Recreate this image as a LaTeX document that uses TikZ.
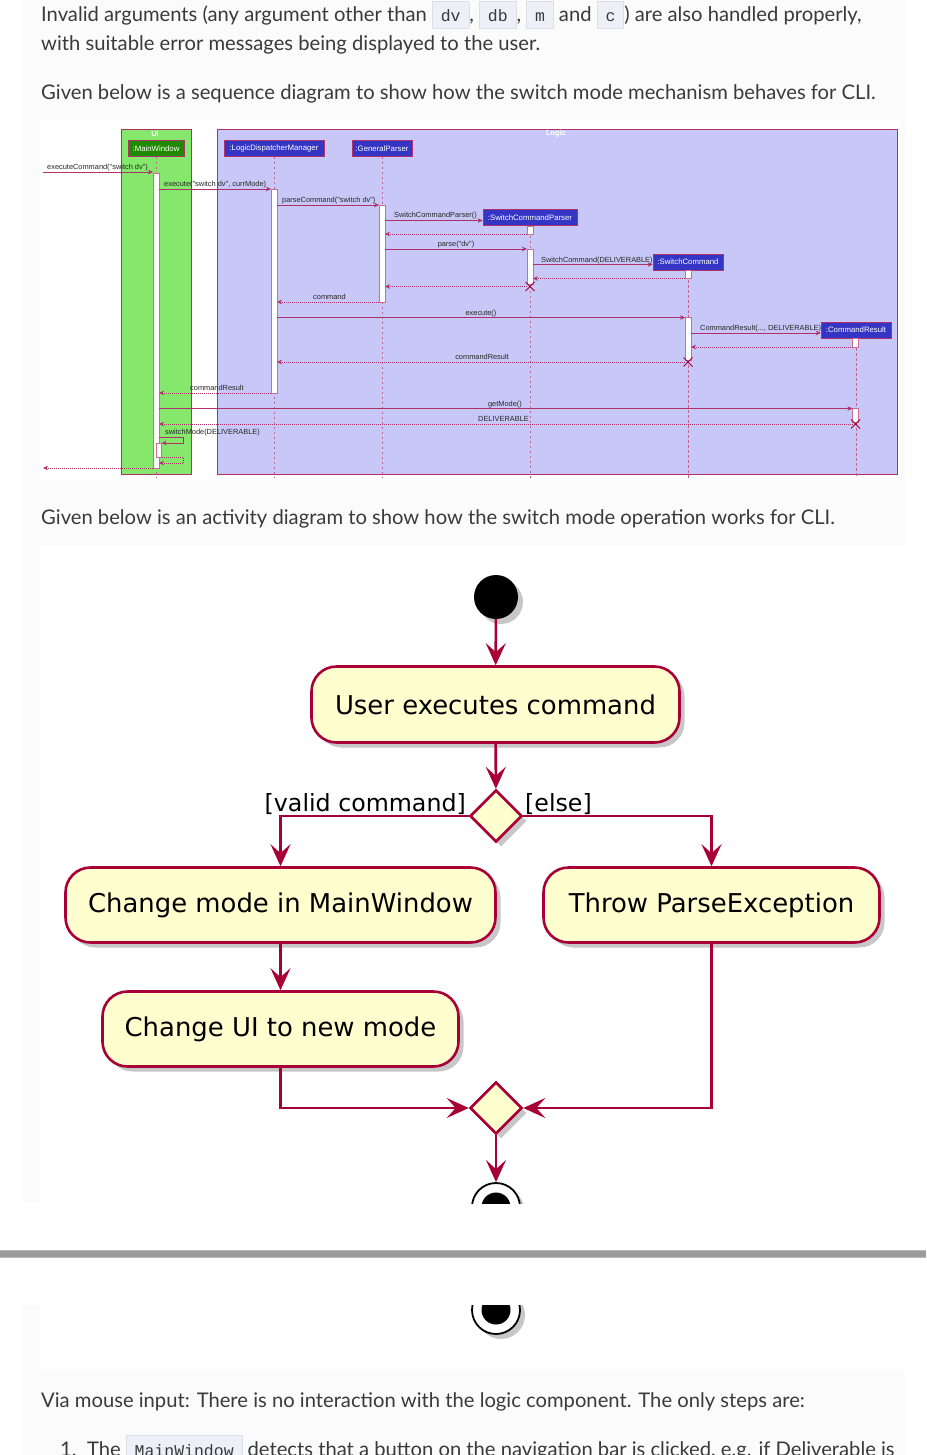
\documentclass[tikz,border=0pt]{standalone}
\usepackage{fontspec}
\setmainfont{Lato}
\newfontfamily\bodyfont{Lato}
\newfontfamily\codefontfam{Liberation Mono}
\newfontfamily\seqfam{Liberation Sans}
\newfontfamily\actfam{DejaVu Sans}
\usetikzlibrary{arrows.meta,shadows,shapes.geometric}
\definecolor{crim}{HTML}{A80036}
\definecolor{seqc}{HTML}{B0306A}
\definecolor{actfill}{HTML}{FEFECE}
\definecolor{uigreen}{HTML}{85E86C}
\definecolor{logicbg}{HTML}{C8C8F8}
\definecolor{partblue}{HTML}{3535C5}
\definecolor{partgreen}{HTML}{1F8A00}
\definecolor{bodytext}{HTML}{3A3A3A}
\definecolor{codebg}{HTML}{EEF0F7}
\definecolor{codeborder}{HTML}{DCDFEA}
\definecolor{pagebg}{HTML}{FBFBFB}
\definecolor{barc}{HTML}{9B9B9B}
\newcommand\cbox[1]{{\setlength\fboxsep{0pt}\setlength\fboxrule{0.8pt}\fcolorbox{codeborder}{codebg}{\hspace{8pt}\rule[-6pt]{0pt}{26pt}{\codefontfam\fontsize{16.5}{18}\selectfont #1}\hspace{8pt}}}}
\begin{document}
\begin{tikzpicture}[x=1pt,y=-1pt,
  body/.style={font=\bodyfont\fontsize{20.2}{24}\selectfont, text=bodytext, inner sep=0pt, anchor=base west},
  grp/.style={draw=seqc, line width=0.6pt},
  grptitle/.style={font=\seqfam\bfseries\fontsize{7.5}{8}\selectfont, text=white, inner sep=0pt},
  part/.style={draw=seqc, line width=0.6pt, fill=partblue, text=white, font=\seqfam\fontsize{7.8}{8}\selectfont, inner sep=0pt, minimum height=16pt},
  lifeline/.style={draw=seqc!75, line width=0.6pt, dash pattern=on 2.5pt off 2.5pt},
  actbar/.style={draw=seqc!70, fill=white, line width=0.6pt},
  msg/.style={draw=seqc, line width=0.6pt, -{Stealth[length=5pt,width=4.5pt,inset=1.5pt]}},
  ret/.style={msg, dash pattern=on 1pt off 1pt},
  lbl/.style={font=\seqfam\fontsize{7.4}{8}\selectfont, text=black!85, inner sep=0pt},
  xmark/.style={draw=crim, line width=0.8pt},
  actbox/.style={draw=crim, fill=actfill, line width=2.6pt, rounded corners=25pt, inner sep=0pt,
     font=\actfam\fontsize{25.9}{30}\selectfont, text=black,
     drop shadow={shadow xshift=5pt, shadow yshift=-5pt, fill=black, opacity=0.22}},
  decis/.style={diamond, draw=crim, fill=actfill, line width=2.6pt, minimum width=52pt, minimum height=52pt, inner sep=0pt,
     drop shadow={shadow xshift=5pt, shadow yshift=-5pt, fill=black, opacity=0.22}},
  guard/.style={font=\actfam\fontsize{23.7}{28}\selectfont, text=black, inner sep=0pt},
  aarrow/.style={draw=crim, line width=2.6pt, -{Stealth[length=22pt,width=20pt,inset=9pt]}},
  endring/.style={circle, draw=black, fill=white, line width=1.8pt, minimum size=48pt, inner sep=0pt,
     drop shadow={shadow xshift=5pt, shadow yshift=-5pt, fill=black, opacity=0.22}}
]
\useasboundingbox (0,0) rectangle (926,1455);
% page backgrounds
\fill[white] (0,0) rectangle (926,1455);
\fill[pagebg] (22,0) rectangle (905,1203);
\fill[pagebg] (22,1305) rectangle (905,1455);
\fill[white] (40,120) rectangle (900,480);
\fill[white] (40,545) rectangle (905,1203);
\fill[white] (40,1305) rectangle (905,1370);
\fill[barc!70] (0,1249.5) rectangle (926,1257.5);
\fill[barc] (0,1250.5) rectangle (926,1256.5);

% body text
\node[body] (t1) at (41,22) {Invalid arguments (any argument other than \cbox{dv}, \cbox{db}, \cbox{m} and \cbox{c}) are also handled properly,};
\node[body] (t2) at (41,51) {with suitable error messages being displayed to the user.};
\node[body] (t3) at (41,100) {Given below is a sequence diagram to show how the switch mode mechanism behaves for CLI.};
\node[body] (t4) at (41,524) {Given below is an activity diagram to show how the switch mode operation works for CLI.};
\node[body] (t5) at (41,1407) {Via mouse input: There is no interaction with the logic component. The only steps are:};
\node[body] (t6) at (60,1456) {1.\ \ The \cbox{MainWindow} detects that a button on the navigation bar is clicked, e.g. if Deliverable is};

% ===== sequence diagram =====
\filldraw[grp, fill=uigreen] (121,129) rectangle (191,474);
\node[grptitle] (uit) at (155,133.5) {UI};
\filldraw[grp, fill=logicbg] (217,129) rectangle (897,474);
\node[grptitle] (lgt) at (556,133.5) {Logic};

\node[part, fill=partgreen, minimum width=56pt] (mw) at (156,148.5) {:MainWindow};
\node[part, minimum width=100pt] (ldm) at (274,148.5) {:LogicDispatcherManager};
\node[part, minimum width=60pt] (gp) at (382,148.5) {:GeneralParser};
\node[part, minimum width=94pt] (scp) at (530,217.5) {:SwitchCommandParser};
\node[part, minimum width=70pt] (sc) at (688,262) {:SwitchCommand};
\node[part, minimum width=70pt] (cr) at (856,330) {:CommandResult};

\coordinate (bot) at (0,478);
\foreach \p in {mw,ldm,gp,scp,sc,cr}{\draw[lifeline] (\p.south) -- (\p.south |- bot);}

% activation bars
\filldraw[actbar] (153,173) rectangle (159,468);
\filldraw[actbar] (156,443) rectangle (161.5,457);
\filldraw[actbar] (271,189) rectangle (277,393);
\filldraw[actbar] (379,205) rectangle (385,302);
\filldraw[actbar] (527,226) rectangle (533,234);
\filldraw[actbar] (527,249) rectangle (533,284);
\filldraw[actbar] (685,270) rectangle (691,278);
\filldraw[actbar] (685,317) rectangle (691,360);
\filldraw[actbar] (852.5,338) rectangle (858.5,347);
\filldraw[actbar] (852.5,408) rectangle (858.5,422);

% messages
\draw[msg] (43,172) -- (153,172);
\node[lbl, anchor=base west] at (47,170) {executeCommand("switch dv")};
\draw[msg] (159,189) -- (271,189);
\node[lbl, anchor=base west] at (164,186.5) {execute("switch dv", currMode)};
\draw[msg] (277,205) -- (379,205);
\node[lbl, anchor=base west] at (282,202.5) {parseCommand("switch dv")};
\draw[msg] (385,220.5) -- (scp.west |- 0,220.5);
\node[lbl, anchor=base west] at (394,218) {SwitchCommandParser()};
\draw[ret] (527,234) -- (385,234);
\draw[msg] (385,249) -- (527,249);
\node[lbl, anchor=base] at (456,246.5) {parse("dv")};
\draw[msg] (533,264.5) -- (sc.west |- 0,264.5);
\node[lbl, anchor=base west] at (541,262) {SwitchCommand(DELIVERABLE)};
\draw[ret] (685,278.5) -- (533,278.5);
\draw[ret] (527,286.5) -- (385,286.5);
\draw[ret] (379,302) -- (277,302);
\node[lbl, anchor=base west] at (313,299.5) {command};
\draw[msg] (277,317.5) -- (685,317.5);
\node[lbl, anchor=base] at (481,315) {execute()};
\draw[msg] (691,333) -- (cr.west |- 0,333);
\node[lbl, anchor=base west] at (700,330.5) {CommandResult(..., DELIVERABLE)};
\draw[ret] (852.5,347) -- (691,347);
\draw[ret] (685,362) -- (277,362);
\node[lbl, anchor=base] at (482,359.5) {commandResult};
\draw[ret] (271,393) -- (159,393);
\node[lbl, anchor=base west] at (190,390.5) {commandResult};
\draw[msg] (159,408.5) -- (852.5,408.5);
\node[lbl, anchor=base east] at (522,406) {getMode()};
\draw[ret] (852.5,424) -- (159,424);
\node[lbl, anchor=base east] at (529,421.5) {DELIVERABLE};
\draw[msg] (159,437) -- (183,437) -- (183,443) -- (161.5,443);
\node[lbl, anchor=base west] at (165,434.5) {switchMode(DELIVERABLE)};
\draw[ret] (161.5,457) -- (183,457) -- (183,463) -- (159,463);
\draw[ret] (153,468) -- (43,468);

% destroy marks
\foreach \cx/\cy in {530/286.5, 688/362, 855.5/424}{
  \draw[xmark] (\cx-4.5,\cy-4.5) -- (\cx+4.5,\cy+4.5) (\cx-4.5,\cy+4.5) -- (\cx+4.5,\cy-4.5);}

% ===== activity diagram =====
\node[circle, fill=black, minimum size=44pt, inner sep=0pt,
  drop shadow={shadow xshift=5pt, shadow yshift=-5pt, fill=black, opacity=0.22}] (start) at (496,597) {};
\node[actbox, minimum width=368pt, minimum height=76pt] (user) at (495.5,704.5) {User executes command};
\node[decis] (d1) at (496,816) {};
\node[actbox, minimum width=430pt, minimum height=75pt] (cm) at (280.5,905) {Change mode in MainWindow};
\node[actbox, minimum width=336pt, minimum height=75pt] (tp) at (711.5,905) {Throw ParseException};
\node[actbox, minimum width=356pt, minimum height=75pt] (cu) at (280.5,1029) {Change UI to new mode};
\node[decis] (d2) at (496,1108) {};
\node[guard, anchor=base east] (g1) at (466,811) {[valid command]};
\node[guard, anchor=base west] (g2) at (525,811) {[else]};

\begin{scope}
  \clip (0,1150) rectangle (926,1203);
  \node[endring] (endc) at (496,1207) {};
  \fill[black] (endc.center) circle (14.5);
\end{scope}
\begin{scope}
  \clip (0,1305) rectangle (926,1370);
  \node[endring] (endb) at (496,1310) {};
  \fill[black] (endb.center) circle (14.5);
\end{scope}

\draw[aarrow] (start) -- (user);
\draw[aarrow] (user) -- (d1);
\draw[aarrow] (d1.west) -| (cm.north);
\draw[aarrow] (d1.east) -| (tp.north);
\draw[aarrow] (cm) -- (cu);
\draw[aarrow] (cu.south) |- (d2.west);
\draw[aarrow] (tp.south) |- (d2.east);
\draw[aarrow] (d2) -- (endc);
\end{tikzpicture}
\end{document}
